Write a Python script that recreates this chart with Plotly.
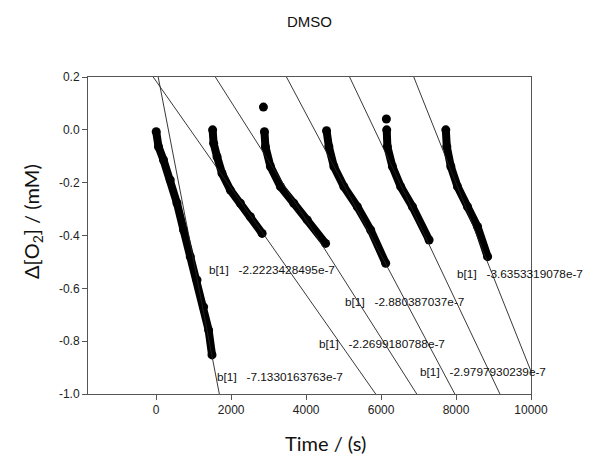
import plotly.graph_objects as go

# ---- data ----
seg1_t = [0, 61, 195, 374, 553, 730, 909, 1088, 1265, 1398, 1489]
seg1_y = [-0.007, -0.064, -0.114, -0.190, -0.277, -0.379, -0.480, -0.568, -0.670, -0.758, -0.852]
seg2_t = [1505, 1532, 1623, 1757, 1979, 2246, 2513, 2826]
seg2_y = [0.0, -0.051, -0.102, -0.165, -0.228, -0.278, -0.329, -0.392]
seg3_t = [2888, 2914, 3048, 3316, 3671, 4030, 4519]
seg3_y = [-0.007, -0.064, -0.139, -0.215, -0.278, -0.341, -0.430]
seg4_t = [4545, 4607, 4741, 5008, 5366, 5722, 6123]
seg4_y = [-0.003, -0.064, -0.139, -0.215, -0.291, -0.379, -0.505]
seg5_t = [6150, 6168, 6302, 6524, 6837, 7281]
seg5_y = [0.0, -0.064, -0.139, -0.215, -0.291, -0.417]
seg6_t = [7727, 7754, 7861, 8040, 8307, 8575, 8842]
seg6_y = [0.0, -0.064, -0.139, -0.215, -0.291, -0.367, -0.480]
outlier_t = [2861, 6141]
outlier_y = [0.086, 0.041]

# fit lines: (t at top y=0.2, t at bottom y=-1.0)
fit_top_t = [53, -80, 1578, 3476, 5160, 6872]
fit_bot_t = [1684, 5856, 6952, 7968, 9171, 10241]
fit_y = [0.2, -1.0]

# annotation labels
ann_text = ["-7.1330163763e-7", "-2.2223428495e-7", "-2.2699180788e-7",
            "-2.880387037e-7", "-2.9797930239e-7", "-3.6353319078e-7"]
ann_t = [1560, 1350, 4290, 4980, 6990, 7960]
ann_y = [-0.936, -0.531, -0.811, -0.652, -0.917, -0.546]

x_ticks = [0, 2000, 4000, 6000, 8000, 10000]
x_ticktext = ["0", "2000", "4000", "6000", "8000", "10000"]
y_ticks = [-1.0, -0.8, -0.6, -0.4, -0.2, 0.0, 0.2]
y_ticktext = ["-1.0", "-0.8", "-0.6", "-0.4", "-0.2", "0.0", "0.2"]

fig = go.Figure()

for tt, yy in [(seg1_t, seg1_y), (seg2_t, seg2_y), (seg3_t, seg3_y),
               (seg4_t, seg4_y), (seg5_t, seg5_y), (seg6_t, seg6_y)]:
    fig.add_trace(go.Scatter(x=tt, y=yy, mode="lines+markers",
                             line=dict(color="black", width=8),
                             marker=dict(color="black", size=9),
                             showlegend=False, hoverinfo="skip"))

fig.add_trace(go.Scatter(x=outlier_t, y=outlier_y, mode="markers",
                         marker=dict(color="black", size=9),
                         showlegend=False, hoverinfo="skip"))

for a, b in zip(fit_top_t, fit_bot_t):
    fig.add_trace(go.Scatter(x=[a, b], y=fit_y, mode="lines",
                             line=dict(color="#222222", width=0.9),
                             showlegend=False, hoverinfo="skip"))

# page has an 8px body margin; figure is sized/offset to compensate
OFF = 8
W, H = 591 - OFF, 454 - OFF
L, R, T, B = 88 - OFF, 60, 77 - OFF, 60

fig.update_layout(
    width=W, height=H, autosize=False,
    margin=dict(l=L, r=R, t=T, b=B),
    plot_bgcolor="white", paper_bgcolor="white",
)

for txt, t, y in zip(ann_text, ann_t, ann_y):
    fig.add_annotation(x=t, y=y, xref="x", yref="y",
                       text="b[1]\u00a0\u00a0\u00a0" + txt, showarrow=False,
                       xanchor="left", yanchor="middle",
                       font=dict(family="Arial, Liberation Sans", size=11.8, color="#111111"))

pw, ph = W - L - R, H - T - B
def px(xp):
    return (xp - OFF - L) / pw
def py(yp):
    return (H - B - (yp - OFF)) / ph

fig.add_annotation(x=px(309), y=py(22), xref="paper", yref="paper", text="DMSO",
                   showarrow=False, xanchor="center", yanchor="middle",
                   font=dict(family="Arial, Liberation Sans", size=15, color="#111111"))
fig.add_annotation(x=px(325), y=py(443), xref="paper", yref="paper", text="Time / (s)",
                   showarrow=False, xanchor="center", yanchor="middle",
                   font=dict(family="Lato", size=20, color="#111111"))
fig.add_annotation(x=px(32), y=py(222), xref="paper", yref="paper",
                   text="\u0394[O<sub>2</sub>] / (mM)", textangle=-90,
                   showarrow=False, xanchor="center", yanchor="middle",
                   font=dict(family="Lato", size=20, color="#111111"))

fig.update_xaxes(range=[-1820, 10000], tickvals=x_ticks, ticktext=x_ticktext,
                 ticks="outside", ticklen=5,
                 tickcolor="#555555", showline=True, linecolor="#555555", linewidth=1,
                 mirror=True, showgrid=False, zeroline=False,
                 tickfont=dict(family="Arial, Liberation Sans", size=12, color="#222222"))
fig.update_yaxes(range=[-1.0, 0.2], tickvals=y_ticks, ticktext=y_ticktext, ticks="outside",
                 ticklen=5, tickcolor="#555555", showline=True, linecolor="#555555",
                 linewidth=1, mirror=True, showgrid=False, zeroline=False,
                 tickfont=dict(family="Arial, Liberation Sans", size=12, color="#222222"))

fig.write_html("out.html")
